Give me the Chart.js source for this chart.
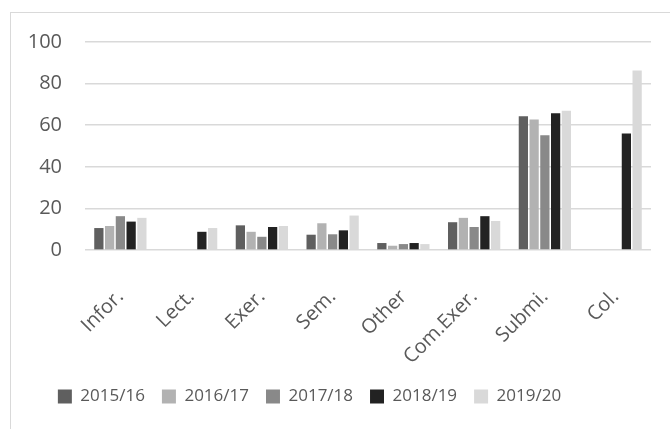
<!DOCTYPE html>
<html>
<head>
<meta charset="utf-8">
<script src="https://cdn.jsdelivr.net/npm/chart.js@4/dist/chart.umd.min.js"></script>
<style>
  body { margin: 0; background: #fff; }
  #frame {
    position: absolute; left: 10px; top: 12px;
    width: 660px; height: 417px;
    border-left: 1.5px solid #d9d9d9;
    border-top: 1.5px solid #d9d9d9;
  }
  #activity-chart { position: absolute; left: 11px; top: 7px; display: block; }
</style>
</head>
<body>
<div id="frame"></div>
<canvas id="activity-chart" width="659" height="422"></canvas>
<script>
const categories = ['Infor.', 'Lect.', 'Exer.', 'Sem.', 'Other', 'Com.Exer.', 'Submi.', 'Col.']
const years = ['2015/16', '2016/17', '2017/18', '2018/19', '2019/20']

const y2015 = [10.6, null, 11.9, 7.4, 3.4, 13.4, 64.3, null]
const y2016 = [11.6, null, 8.8, 12.9, 2.1, 15.5, 62.7, null]
const y2017 = [16.3, null, 6.4, 7.6, 2.9, 11.1, 55.2, null]
const y2018 = [13.7, 8.8, 11.1, 9.5, 3.4, 16.3, 65.8, 56.0]
const y2019 = [15.5, 10.6, 11.6, 16.6, 2.9, 14.0, 67.0, 86.3]

const yTicks = [0, 20, 40, 60, 80, 100]

const seriesColors = ['#5f5f5f', '#b2b2b2', '#898989', '#222222', '#d9d9d9']
const allSeries = [y2015, y2016, y2017, y2018, y2019]

const textColor = '#595959'

// the legend sits a bit left of centre in the original
const legendShift = {
  id: 'legendShift',
  afterLayout(chart) {
    chart.legend.left -= 30
    chart.legend.right -= 30
  }
}

var ctx = document.getElementById('activity-chart');
var activityChart = new Chart(ctx, {
  type: 'bar',
  data: {
    labels: categories,
    datasets: allSeries.map((values, i) => ({
      label: years[i],
      data: values,
      backgroundColor: seriesColors[i],
      borderWidth: 0,
      barPercentage: 0.86,
      categoryPercentage: 0.76
    }))
  },
  options: {
    responsive: false,
    animation: false,
    devicePixelRatio: 1,
    layout: {
      padding: { left: 17, right: 19, top: 7, bottom: 14 }
    },
    scales: {
      x: {
        grid: { display: false },
        border: { display: false },
        ticks: {
          color: textColor,
          font: { family: 'Open Sans', size: 20 },
          maxRotation: 45,
          minRotation: 45,
          autoSkip: false,
          padding: 27
        },
        afterFit: (axis) => {
          // labels may hang over the legend gap, like the original
          axis.paddingLeft = 0
          axis.paddingRight = 0
          axis.height -= 25
        }
      },
      y: {
        min: 0,
        max: 100,
        afterBuildTicks: (axis) => { axis.ticks = yTicks.map(v => ({ value: v })) },
        afterFit: (axis) => { axis.width = 57 },
        grid: { color: '#d9d9d9', lineWidth: 1.5, drawTicks: false },
        border: { display: false },
        ticks: {
          color: textColor,
          font: { family: 'Open Sans', size: 20 },
          padding: 23
        }
      }
    },
    plugins: {
      legend: {
        position: 'bottom',
        labels: {
          color: textColor,
          font: { family: 'Open Sans', size: 17 },
          boxWidth: 14,
          boxHeight: 14,
          padding: 17
        }
      },
      tooltip: { enabled: false }
    }
  },
  plugins: [legendShift]
});
</script>
</body>
</html>
